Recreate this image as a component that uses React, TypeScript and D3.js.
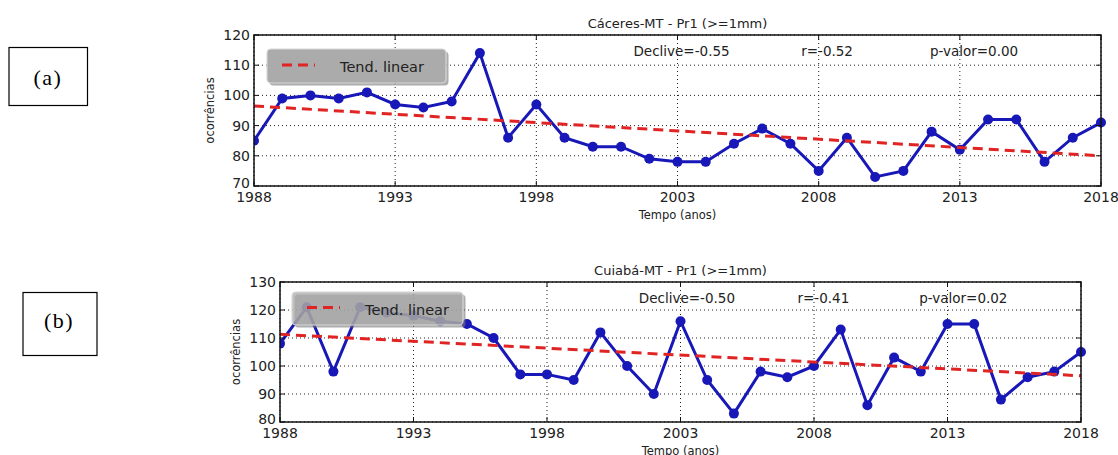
import React from "react";
import * as d3 from "d3";

const YEARS = [1988, 1989, 1990, 1991, 1992, 1993, 1994, 1995, 1996, 1997, 1998, 1999, 2000, 2001, 2002, 2003, 2004, 2005, 2006, 2007, 2008, 2009, 2010, 2011, 2012, 2013, 2014, 2015, 2016, 2017, 2018];
const CACERES_VALUES = [85, 99, 100, 99, 101, 97, 96, 98, 114, 86, 97, 86, 83, 83, 79, 78, 78, 84, 89, 84, 75, 86, 73, 75, 88, 82, 92, 92, 78, 86, 91];
const CUIABA_VALUES = [108, 121, 98, 121, 119, 118, 116, 115, 110, 97, 97, 95, 112, 100, 90, 116, 95, 83, 98, 96, 100, 113, 86, 103, 98, 115, 115, 88, 96, 98, 105];
const CACERES_TREND = [96.5, 80.0];
const CUIABA_TREND = [111.3, 96.5];
const X_TICKS = [1988, 1993, 1998, 2003, 2008, 2013, 2018];
const CACERES_Y_TICKS = [70, 80, 90, 100, 110, 120];
const CUIABA_Y_TICKS = [80, 90, 100, 110, 120, 130];
const CACERES_STATS = ["Declive=-0.55", "r=-0.52", "p-valor=0.00"];
const CUIABA_STATS = ["Declive=-0.50", "r=-0.41", "p-valor=0.02"];
const TITLES = ["Cáceres-MT - Pr1 (>=1mm)", "Cuiabá-MT - Pr1 (>=1mm)"];
const PANEL_LABELS = ["(a)", "(b)"];
const LEGEND_LABEL = "Tend. linear";
const X_LABEL = "Tempo (anos)";
const Y_LABEL = "ocorrências";

const FONT = "DejaVu Sans, sans-serif";
const BLUE = "#1818b8";
const RED = "#e02424";

type PanelProps = {
  left: number; right: number; top: number; bottom: number;
  values: number[]; trend: number[]; yTicks: number[]; stats: string[]; title: string;
  legend: { x: number; y: number; w: number; h: number; alpha: number };
};

function Panel(p: PanelProps) {
  const x = d3.scaleLinear().domain([YEARS[0], YEARS[YEARS.length - 1]]).range([p.left, p.right]);
  const y = d3.scaleLinear().domain([p.yTicks[0], p.yTicks[p.yTicks.length - 1]]).range([p.bottom, p.top]);
  const line = d3.line<number>().x((_, i) => x(YEARS[i])).y((v) => y(v));
  const trendLine = d3.line<number>().x((_, i) => x(i === 0 ? YEARS[0] : YEARS[YEARS.length - 1])).y((v) => y(v));
  const w = p.right - p.left;
  const statFrac = [0.448, 0.646, 0.798];
  const lg = p.legend;
  const lgx = p.left + lg.x;
  const lgy = p.top + lg.y;
  const clipId = "clip" + p.top;
  return (
    <g fontFamily={FONT}>
      <defs>
        <clipPath id={clipId}>
          <rect x={p.left} y={p.top - 6} width={w + 6} height={p.bottom - p.top + 12} />
        </clipPath>
      </defs>
      <rect x={p.left} y={p.top} width={w} height={p.bottom - p.top} fill="#fff" />
      {X_TICKS.map((t) => (
        <line key={"gx" + t} x1={x(t)} x2={x(t)} y1={p.top} y2={p.bottom} stroke="#222" strokeWidth={1} strokeDasharray="1,3" />
      ))}
      {p.yTicks.map((t) => (
        <line key={"gy" + t} x1={p.left} x2={p.right} y1={y(t)} y2={y(t)} stroke="#222" strokeWidth={1} strokeDasharray="1,3" />
      ))}
      <g clipPath={`url(#${clipId})`}>
        <path d={line(p.values) || ""} fill="none" stroke={BLUE} strokeWidth={3} />
        {p.values.map((v, i) => (
          <circle key={i} cx={x(YEARS[i])} cy={y(v)} r={5} fill={BLUE} />
        ))}
        <path d={trendLine(p.trend) || ""} fill="none" stroke={RED} strokeWidth={3} strokeDasharray="10,6" />
      </g>
      <rect x={p.left} y={p.top} width={w} height={p.bottom - p.top} fill="none" stroke="#111" strokeWidth={1.5} />
      {X_TICKS.map((t) => (
        <g key={"tx" + t}>
          <line x1={x(t)} x2={x(t)} y1={p.bottom} y2={p.bottom - 5} stroke="#111" />
          <line x1={x(t)} x2={x(t)} y1={p.top} y2={p.top + 5} stroke="#111" />
          <text x={x(t)} y={p.bottom + 11} textAnchor="middle" dominantBaseline="central" fontSize={14} fill="#222">{t}</text>
        </g>
      ))}
      {p.yTicks.map((t, i) => (
        <g key={"ty" + t}>
          <line x1={p.left} x2={p.left + 5} y1={y(t)} y2={y(t)} stroke="#111" />
          <line x1={p.right} x2={p.right - 5} y1={y(t)} y2={y(t)} stroke="#111" />
          <text x={p.left - 4} y={y(t) - (i === 0 ? 3 : 0)} textAnchor="end" dominantBaseline="central" fontSize={14} fill="#222">{t}</text>
        </g>
      ))}
      <text x={(p.left + p.right) / 2} y={p.top - 12} textAnchor="middle" dominantBaseline="central" fontSize={13} fill="#222">{p.title}</text>
      <text x={(p.left + p.right) / 2} y={p.bottom + 29} textAnchor="middle" dominantBaseline="central" fontSize={11.5} fill="#222">{X_LABEL}</text>
      <text transform={`translate(${p.left - 44},${(p.top + p.bottom) / 2}) rotate(-90)`} textAnchor="middle" dominantBaseline="central" fontSize={11.5} fill="#222">{Y_LABEL}</text>
      {p.stats.map((s, i) => (
        <text key={s} x={p.left + statFrac[i] * w} y={p.top + 16} dominantBaseline="central" fontSize={13.5} fill="#222">{s}</text>
      ))}
      <g>
        <rect x={lgx + 2.5} y={lgy + 2.5} width={lg.w} height={lg.h} rx={4} fill="#777" opacity={0.6} />
        <rect x={lgx} y={lgy} width={lg.w} height={lg.h} rx={4} fill="#ababab" fillOpacity={lg.alpha} stroke="#d8d8d8" strokeWidth={1.2} />
        <line x1={lgx + 15} x2={lgx + 48} y1={lgy + lg.h / 2 - 1} y2={lgy + lg.h / 2 - 1} stroke={RED} strokeWidth={3} strokeDasharray="10,6" />
        <text x={lgx + 73} y={lgy + lg.h / 2 + 1} dominantBaseline="central" fontSize={14.5} fill="#222">{LEGEND_LABEL}</text>
      </g>
    </g>
  );
}

export default function App() {
  return (
    <svg width={1118} height={455} style={{ position: "absolute", left: 0, top: 0, background: "#fff" }}>
      <rect x={0} y={0} width={1118} height={455} fill="#fff" />
      <rect x={9} y={47.5} width={78.5} height={58} fill="none" stroke="#000" strokeWidth={1.2} />
      <text x={48} y={77} textAnchor="middle" dominantBaseline="central" fontSize={22} letterSpacing={1.5} fontFamily="Liberation Serif, serif">{PANEL_LABELS[0]}</text>
      <rect x={23} y={292.5} width={74} height={63} fill="none" stroke="#000" strokeWidth={1.2} />
      <text x={59} y={320} textAnchor="middle" dominantBaseline="central" fontSize={22} letterSpacing={1.5} fontFamily="Liberation Serif, serif">{PANEL_LABELS[1]}</text>
      <Panel left={254} right={1101} top={35} bottom={186} values={CACERES_VALUES} trend={CACERES_TREND}
        yTicks={CACERES_Y_TICKS} stats={CACERES_STATS} title={TITLES[0]}
        legend={{ x: 13, y: 14, w: 179, h: 34, alpha: 1 }} />
      <Panel left={280} right={1081} top={282} bottom={422} values={CUIABA_VALUES} trend={CUIABA_TREND}
        yTicks={CUIABA_Y_TICKS} stats={CUIABA_STATS} title={TITLES[1]}
        legend={{ x: 12, y: 10, w: 171, h: 33, alpha: 0.75 }} />
    </svg>
  );
}
